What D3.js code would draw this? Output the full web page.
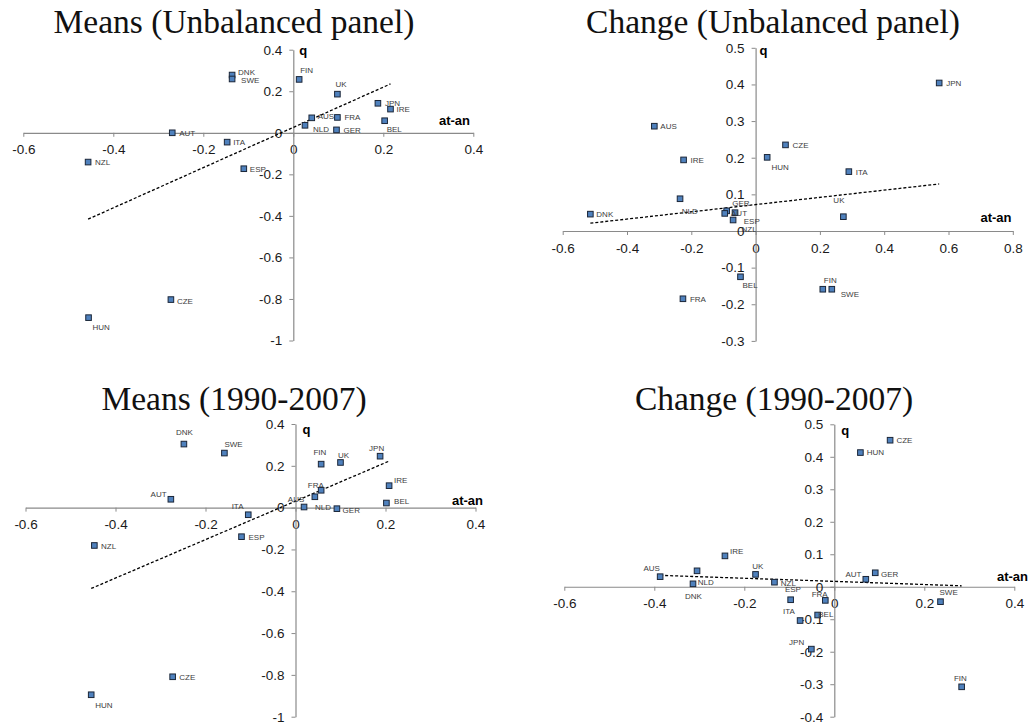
<!DOCTYPE html>
<html>
<head>
<meta charset="utf-8">
<script src="https://cdn.jsdelivr.net/npm/d3@7"></script>
<style>
  html, body { margin: 0; padding: 0; background: #ffffff; }
  svg { display: block; }
</style>
</head>
<body>
<svg id="chart" width="1030" height="725"></svg>
<script>
// ---- Means, unbalanced panel ----
const countries1 = ["DNK","SWE","AUT","ITA","NZL","ESP","FIN","UK","JPN","IRE","AUS","FRA","NLD","GER","BEL","CZE","HUN"];
const atan1 = [-0.136,-0.136,-0.269,-0.147,-0.456,-0.110,0.013,0.098,0.188,0.216,0.041,0.098,0.026,0.096,0.203,-0.272,-0.455];
const q1    = [0.278,0.259,0.000,-0.045,-0.141,-0.173,0.257,0.186,0.142,0.114,0.072,0.074,0.036,0.014,0.058,-0.803,-0.890];
const trend1 = [0.969, 0.026];           // slope, intercept
const xTicks1 = [-0.6,-0.4,-0.2,0,0.2,0.4];
const yTicks1 = [-1,-0.8,-0.6,-0.4,-0.2,0,0.2,0.4];

// ---- Change, unbalanced panel ----
const countries2 = ["JPN","CZE","HUN","ITA","AUS","IRE","NLD","DNK","GER","AUT","ESP","NZL","UK","BEL","FRA","FIN","SWE"];
const atan2 = [0.571,0.093,0.036,0.290,-0.315,-0.224,-0.235,-0.514,-0.090,-0.096,-0.064,-0.070,0.273,-0.047,-0.226,0.209,0.237];
const q2    = [0.404,0.235,0.201,0.162,0.286,0.194,0.088,0.046,0.055,0.048,0.050,0.030,0.039,-0.125,-0.185,-0.159,-0.159];
const trend2 = [0.0987, 0.072];
const xTicks2 = [-0.6,-0.4,-0.2,0,0.2,0.4,0.6,0.8];
const yTicks2 = [-0.3,-0.2,-0.1,0,0.1,0.2,0.3,0.4,0.5];

// ---- Means, 1990-2007 ----
const countries3 = ["DNK","SWE","AUT","ITA","NZL","ESP","FIN","UK","JPN","IRE","FRA","AUS","NLD","GER","BEL","CZE","HUN"];
const atan3 = [-0.248,-0.158,-0.277,-0.105,-0.447,-0.120,0.057,0.100,0.188,0.208,0.057,0.043,0.019,0.092,0.202,-0.273,-0.454];
const q3    = [0.304,0.261,0.040,-0.034,-0.181,-0.139,0.208,0.216,0.246,0.105,0.083,0.052,0.003,-0.005,0.022,-0.809,-0.895];
const trend3 = [0.92, 0.031];
const xTicks3 = [-0.6,-0.4,-0.2,0,0.2,0.4];
const yTicks3 = [-1,-0.8,-0.6,-0.4,-0.2,0,0.2,0.4];

// ---- Change, 1990-2007 ----
const countries4 = ["CZE","HUN","IRE","AUS","DNK","UK","NLD","NZL","ESP","FRA","ITA","BEL","JPN","AUT","GER","SWE","FIN"];
const atan4 = [0.124,0.058,-0.243,-0.387,-0.305,-0.175,-0.314,-0.133,-0.097,-0.020,-0.076,-0.037,-0.051,0.070,0.091,0.236,0.283];
const q4    = [0.451,0.413,0.095,0.031,0.049,0.038,0.009,0.014,-0.040,-0.042,-0.104,-0.087,-0.192,0.023,0.043,-0.046,-0.308];
const trend4 = [-0.048, 0.0165];
const xTicks4 = [-0.6,-0.4,-0.2,0,0.2,0.4];
const yTicks4 = [-0.4,-0.3,-0.2,-0.1,0,0.1,0.2,0.3,0.4,0.5];

const titles = ["Means (Unbalanced panel)", "Change (Unbalanced panel)", "Means (1990-2007)", "Change (1990-2007)"];

// Label placement (offsets of each country label from its marker, in px)
const labelPlace1 = {DNK:[6,0],SWE:[9,4.5],AUT:[7,3],ITA:[6,3],NZL:[7,3],ESP:[6,3],FIN:[1,-6],UK:[-2,-7],JPN:[7,3],IRE:[6,3],AUS:[6,1.5],FRA:[7,3],NLD:[8,7],GER:[7,3],BEL:[2,11],CZE:[6,4],HUN:[4,12]};
const labelPlace2 = {JPN:[7,3],CZE:[7,3],HUN:[4.4,12.4],ITA:[7,3],AUS:[6,3],IRE:[7,3],NLD:[1.7,15.3],DNK:[6,3],GER:[5.6,-4.7],AUT:[6.3,2.4],ESP:[8.7,11.3],NZL:[8.4,12],UK:[-10,-13.7],BEL:[2,11.6],FRA:[7,3],FIN:[1,-6.3],SWE:[9,8]};
const labelPlace3 = {DNK:[-8,-8.7],SWE:[0,-6],AUT:[-20.3,-2],ITA:[-16.6,-5.7],NZL:[6.7,3.4],ESP:[7,3],FIN:[-7.7,-9.6],UK:[-2.6,-4.7],JPN:[-11,-5.6],IRE:[5,-2.7],FRA:[-13.3,-2],AUS:[-27,5],NLD:[11,3],GER:[5.7,4.3],BEL:[7.7,1.3],CZE:[6.6,3],HUN:[4,13.3]};
const labelPlace4 = {CZE:[6.3,3],HUN:[6.4,2],IRE:[5,-2],AUS:[-16.7,-5.4],DNK:[-12,28.3],UK:[-3.4,-5.6],NLD:[4.7,1.6],NZL:[6.3,3.4],ESP:[-5.7,-7.7],FRA:[-13.6,-3.3],ITA:[-17,-6.7],BEL:[0.6,2],JPN:[-22.3,-4.6],AUT:[-20.3,-2.3],GER:[5.7,4.6],SWE:[-1,-6.4],FIN:[-7.7,-6.3]};

// Panel frames: pixel ranges of the axes, title centre/baseline, axis-name placement
const panels = [
  {countries:countries1, xs:atan1, ys:q1, trend:trend1, xTicks:xTicks1, yTicks:yTicks1, title:titles[0], place:labelPlace1,
   xRange:[23.3,473.3], yRange:[340.5,49.7], titleX:234, titleY:32.5, qdx:6, qdy:5.5, atanX:470, atanDy:-8},
  {countries:countries2, xs:atan2, ys:q2, trend:trend2, xTicks:xTicks2, yTicks:yTicks2, title:titles[1], place:labelPlace2,
   xRange:[562.7,1012.8], yRange:[340.9,47.8], titleX:773, titleY:32.5, qdx:4, qdy:7, atanX:1011.5, atanDy:-8.5},
  {countries:countries3, xs:atan3, ys:q3, trend:trend3, xTicks:xTicks3, yTicks:yTicks3, title:titles[2], place:labelPlace3,
   xRange:[25.5,475.5], yRange:[716.7,424], titleX:234, titleY:410, qdx:7, qdy:10, atanX:483, atanDy:-3},
  {countries:countries4, xs:atan4, ys:q4, trend:trend4, xTicks:xTicks4, yTicks:yTicks4, title:titles[3], place:labelPlace4,
   xRange:[564.3,1014.3], yRange:[716.7,424.3], titleX:774, titleY:409.5, qdx:7, qdy:10.5, atanX:1028, atanDy:-6}
];

const svg = d3.select("#chart");
svg.append("rect").attr("width",1030).attr("height",725).attr("fill","#ffffff");

// tick labels with a plain hyphen as the minus sign
const fmt = d => (d === 0 ? "0" : String(+d.toFixed(1)));
const AXIS_COLOR = "#8a8a8a";
const SANS = "'Liberation Sans', Arial, sans-serif";

panels.forEach(p => {
  const g = svg.append("g");
  const xDom = [d3.min(p.xTicks), d3.max(p.xTicks)];
  const yDom = [d3.min(p.yTicks), d3.max(p.yTicks)];
  const x = d3.scaleLinear().domain(xDom).range(p.xRange);
  const y = d3.scaleLinear().domain(yDom).range(p.yRange);

  // title
  g.append("text")
    .attr("x", p.titleX).attr("y", p.titleY)
    .attr("text-anchor", "middle")
    .attr("font-family", "'Liberation Serif', 'Times New Roman', serif")
    .attr("font-size", 33.5)
    .attr("fill", "#111")
    .text(p.title);

  // x axis through q = 0
  const xAxis = d3.axisBottom(x).tickValues(p.xTicks).tickFormat(fmt)
    .tickSize(4).tickSizeOuter(0).tickPadding(8);
  const gx = g.append("g").attr("transform", `translate(0,${y(0)})`).call(xAxis);

  // y axis through at-an = 0
  const yAxis = d3.axisLeft(y).tickValues(p.yTicks).tickFormat(fmt)
    .tickSize(4).tickSizeOuter(0).tickPadding(7);
  const gy = g.append("g").attr("transform", `translate(${x(0)},0)`).call(yAxis);

  [gx, gy].forEach(a => {
    a.select(".domain").attr("stroke", AXIS_COLOR).attr("stroke-width", 1.2);
    a.selectAll(".tick line").attr("stroke", AXIS_COLOR).attr("stroke-width", 1);
    a.selectAll(".tick text")
      .attr("font-family", SANS).attr("font-size", 13.5).attr("fill", "#1a1a1a");
  });

  // axis names
  g.append("text")
    .attr("x", x(0) + p.qdx).attr("y", p.yRange[1] + p.qdy)
    .attr("font-family", SANS).attr("font-weight", "bold").attr("font-size", 13)
    .attr("fill", "#000").text("q");
  g.append("text")
    .attr("x", p.atanX).attr("y", y(0) + p.atanDy)
    .attr("text-anchor", "end")
    .attr("font-family", SANS).attr("font-weight", "bold").attr("font-size", 13)
    .attr("fill", "#000").text("at-an");

  const data = p.countries.map((c, i) => ({c, xv: p.xs[i], yv: p.ys[i]}));

  // linear trend over the data range
  const [xa, xb] = d3.extent(data, d => d.xv);
  const line = d3.line().x(d => x(d[0])).y(d => y(d[1]));
  g.append("path")
    .attr("d", line([[xa, p.trend[0]*xa + p.trend[1]], [xb, p.trend[0]*xb + p.trend[1]]]))
    .attr("fill", "none").attr("stroke", "#000").attr("stroke-width", 1.3)
    .attr("stroke-dasharray", "3,2");

  // markers
  g.selectAll("rect.pt").data(data).enter().append("rect")
    .attr("class", "pt")
    .attr("x", d => x(d.xv) - 2.8).attr("y", d => y(d.yv) - 2.8)
    .attr("width", 5.6).attr("height", 5.6)
    .attr("fill", "#4f81bd").attr("stroke", "#1b2638").attr("stroke-width", 1);

  // country labels
  g.selectAll("text.lbl").data(data).enter().append("text")
    .attr("class", "lbl")
    .attr("x", d => x(d.xv) + p.place[d.c][0])
    .attr("y", d => y(d.yv) + p.place[d.c][1])
    .attr("font-family", SANS).attr("font-size", 8).attr("fill", "#3c3c3c")
    .text(d => d.c);
});
</script>
</body>
</html>
